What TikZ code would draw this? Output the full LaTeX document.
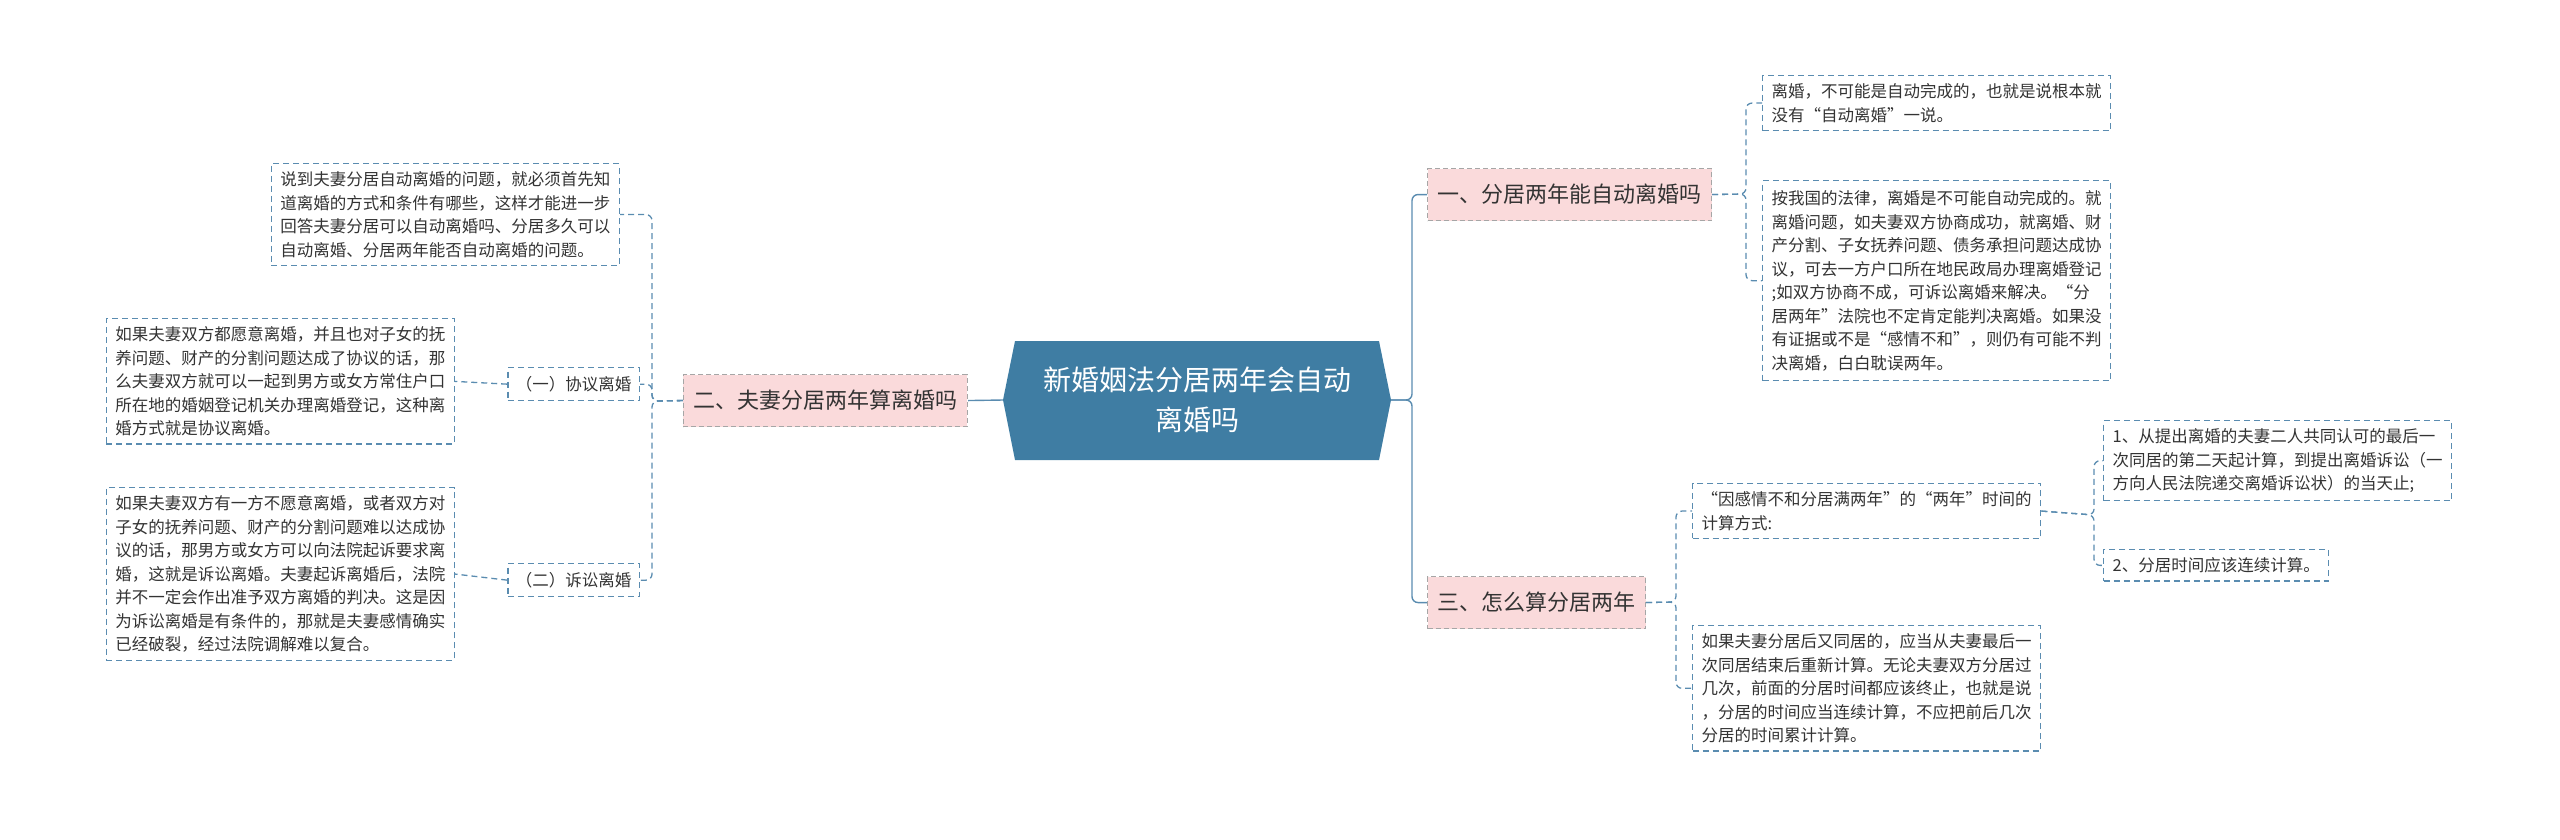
\documentclass[tikz,border=0pt]{standalone}
\usepackage{fontspec}
\setmainfont{Noto Sans CJK SC}
\definecolor{cen}{HTML}{3F7DA3}
\definecolor{lnk}{HTML}{5A8CB0}
\definecolor{pk}{HTML}{FADADB}
\definecolor{tx}{HTML}{333333}
\begin{document}
\begin{tikzpicture}[x=1pt,y=-1pt,
  leaf/.style={draw=lnk,dashed,line width=1.3pt,dash pattern=on 6pt off 4pt,align=left,anchor=north west,inner xsep=9pt,inner ysep=8pt,text=tx,font=\fontsize{16.5}{23.5}\selectfont},
  br/.style={draw=gray!70,fill=pk,dashed,line width=1.1pt,dash pattern=on 5pt off 3pt,anchor=north west,inner xsep=10pt,text=tx,font=\fontsize{22}{26}\selectfont,minimum height=52pt},
  sub/.style={draw=lnk,dashed,line width=1.3pt,dash pattern=on 6pt off 4pt,anchor=north west,inner xsep=8pt,text=tx,font=\fontsize{16.5}{20}\selectfont,minimum height=33pt},
  cn/.style={draw=lnk,line width=1.4pt,rounded corners=6pt},
  cd/.style={draw=lnk,line width=1.3pt,dashed,dash pattern=on 6pt off 4pt,rounded corners=6pt}]
\useasboundingbox (0,0) rectangle (2560,839);
% center
\fill[cen] (1003,400) -- (1015,341) -- (1379,341) -- (1391,400) -- (1379,460) -- (1015,460) -- cycle;
\node[text=white,align=center,font=\fontsize{28}{40}\selectfont] (c) at (1197,400) {新婚姻法分居两年会自动\\离婚吗};
\coordinate (cE) at (1391,400); \coordinate (cW) at (1003,400);
% branch 1
\node[br] (b1) at (1427,168) {一、分居两年能自动离婚吗};
\node[leaf] (l1a) at (1762,75) {离婚，不可能是自动完成的，也就是说根本就\\没有“自动离婚”一说。};
\node[leaf,minimum height=200pt,anchor=north west] (l1b) at (1762,180) {按我国的法律，离婚是不可能自动完成的。就\\离婚问题，如夫妻双方协商成功，就离婚、财\\产分割、子女抚养问题、债务承担问题达成协\\议，可去一方户口所在地民政局办理离婚登记\\;如双方协商不成，可诉讼离婚来解决。“分\\居两年”法院也不定肯定能判决离婚。如果没\\有证据或不是“感情不和”，则仍有可能不判\\决离婚，白白耽误两年。};
% branch 3
\node[br] (b3) at (1427,576) {三、怎么算分居两年};
\node[leaf] (s3a) at (1692,483) {“因感情不和分居满两年”的“两年”时间的\\计算方式:};
\node[leaf] (c31) at (2103,420) {1、从提出离婚的夫妻二人共同认可的最后一\\次同居的第二天起计算，到提出离婚诉讼（一\\方向人民法院递交离婚诉讼状）的当天止;};
\node[leaf] (c32) at (2103,549) {2、分居时间应该连续计算。};
\node[leaf] (s3b) at (1692,625) {如果夫妻分居后又同居的，应当从夫妻最后一\\次同居结束后重新计算。无论夫妻双方分居过\\几次，前面的分居时间都应该终止，也就是说\\，分居的时间应当连续计算，不应把前后几次\\分居的时间累计计算。};
% branch 2
\node[br,anchor=north east] (b2) at (968,374) {二、夫妻分居两年算离婚吗};
\node[leaf,anchor=north east] (intro) at (620,163) {说到夫妻分居自动离婚的问题，就必须首先知\\道离婚的方式和条件有哪些，这样才能进一步\\回答夫妻分居可以自动离婚吗、分居多久可以\\自动离婚、分居两年能否自动离婚的问题。};
\node[sub,anchor=north east] (s21) at (640,367) {（一）协议离婚};
\node[sub,anchor=north east] (s22) at (640,563) {（二）诉讼离婚};
\node[leaf,anchor=north east] (l21) at (455,318) {如果夫妻双方都愿意离婚，并且也对子女的抚\\养问题、财产的分割问题达成了协议的话，那\\么夫妻双方就可以一起到男方或女方常住户口\\所在地的婚姻登记机关办理离婚登记，这种离\\婚方式就是协议离婚。};
\node[leaf,anchor=north east] (l22) at (455,487) {如果夫妻双方有一方不愿意离婚，或者双方对\\子女的抚养问题、财产的分割问题难以达成协\\议的话，那男方或女方可以向法院起诉要求离\\婚，这就是诉讼离婚。夫妻起诉离婚后，法院\\并不一定会作出准予双方离婚的判决。这是因\\为诉讼离婚是有条件的，那就是夫妻感情确实\\已经破裂，经过法院调解难以复合。};
% connectors
\draw[cn] (cE) -- (1412,400) |- (b1.west);
\draw[cn] (cE) -- (1412,400) |- (b3.west);
\draw[cn] (cW) -- (b2.east);
\draw[cd] (b1.east) -- (1746,194) |- (l1a.west);
\draw[cd] (b1.east) -- (1746,194) |- (l1b.west);
\draw[cd] (b3.east) -- (1676,602) |- (s3a.west);
\draw[cd] (b3.east) -- (1676,602) |- (s3b.west);
\draw[cd] (s3a.east) -- (2094,515) |- (c31.west);
\draw[cd] (s3a.east) -- (2094,515) |- (c32.west);
\draw[cd] (b2.west) -- (652,401) |- (intro.east);
\draw[cd] (b2.west) -- (652,401) |- (s21.east);
\draw[cd] (b2.west) -- (652,401) |- (s22.east);
\draw[cd] (s21.west) -- (l21.east);
\draw[cd] (s22.west) -- (l22.east);
\end{tikzpicture}
\end{document}
